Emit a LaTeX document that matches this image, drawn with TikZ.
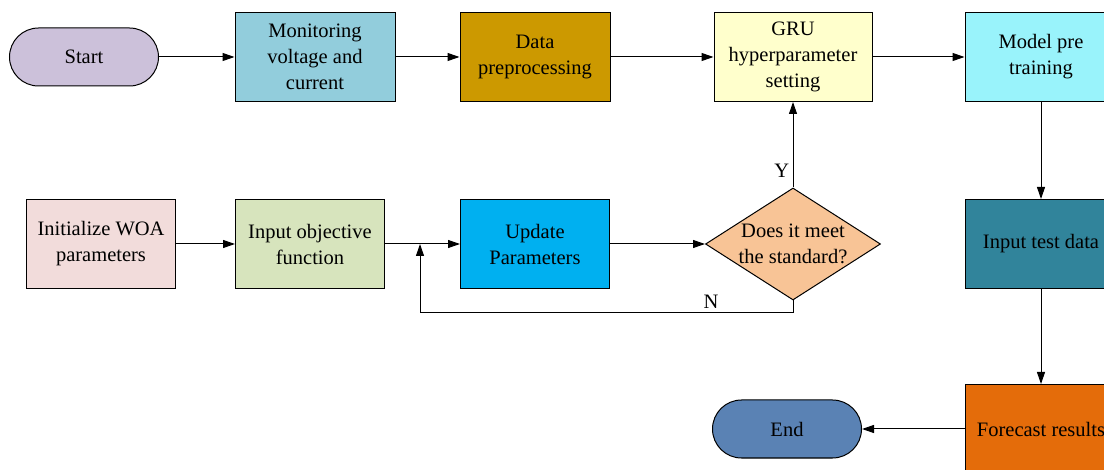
\documentclass[tikz,border=0pt]{standalone}
\usepackage{fontspec}
\setmainfont{Liberation Serif}
\usetikzlibrary{shapes.geometric,arrows.meta}
\definecolor{startc}{HTML}{CCC1DA}
\definecolor{monic}{HTML}{92CDDC}
\definecolor{datac}{HTML}{CC9900}
\definecolor{gruc}{HTML}{FFFFCC}
\definecolor{modelc}{HTML}{99F3FB}
\definecolor{initc}{HTML}{F2DCDB}
\definecolor{objc}{HTML}{D7E4BD}
\definecolor{updc}{HTML}{00B0F0}
\definecolor{decc}{HTML}{F8C496}
\definecolor{testc}{HTML}{31849B}
\definecolor{forec}{HTML}{E46C0A}
\definecolor{endc}{HTML}{5A82B4}
\begin{document}
\begin{tikzpicture}[x=1pt,y=1pt,->,>={Triangle[length=12pt,width=8pt]}]
        \tikzstyle{block}=[rectangle,draw=black,line width=1pt,minimum width=150pt,minimum height=89pt,align=center,font=\fontsize{20.5}{26}\selectfont]
        \tikzstyle{term}=[block,rounded corners=29pt,minimum height=58pt,minimum width=149pt]
        \tikzstyle{decide}=[diamond,draw=black,line width=1pt,aspect=1.56,inner sep=0pt,minimum width=175pt,minimum height=112pt,align=center,font=\fontsize{20.5}{26}\selectfont]
        \tikzstyle{edge}=[draw,line width=1pt]
        \useasboundingbox (0,0) rectangle (1104,-470);
       \begin{scope}
         \node [term,fill=startc] (start) at (84,-57) {Start};
         \node [block,fill=monic,minimum width=160pt] (moni) at (315,-57) {Monitoring\\voltage and\\current};
         \node [block,fill=datac] (data) at (535,-57) {Data\\preprocessing};
         \node [block,fill=gruc,minimum width=158pt] (gru) at (793,-57) {GRU\\hyperparameter\\setting};
         \node [block,fill=modelc,minimum width=152pt] (model) at (1041,-57) {Model pre\\training};
         \node [block,fill=initc,minimum width=149pt] (init) at (101,-244) {Initialize WOA\\parameters};
         \node [block,fill=objc,minimum width=149pt] (obj) at (310,-244) {Input objective\\function};
         \node [block,fill=updc,minimum width=149pt] (upd) at (535,-244) {Update\\Parameters};
         \node [decide,fill=decc] (dec) at (793,-244) {Does it meet\\the standard?};
         \node [block,fill=testc,minimum width=152pt] (test) at (1041,-244) {Input test data};
         \node [block,fill=forec,minimum width=152pt] (fore) at (1041,-429) {Forecast results};
         \node [term,fill=endc] (end) at (787,-429) {End};
         \coordinate (join) at (420,-244);
         \path[edge] (start) edge (moni);
         \path[edge] (moni) edge (data);
         \path[edge] (data) edge (gru);
         \path[edge] (gru) edge (model);
         \path[edge] (model) edge (test);
         \path[edge] (test) edge (fore);
         \path[edge] (fore) edge (end);
         \path[edge] (init) edge (obj);
         \path[edge] (obj) edge (upd);
         \path[edge] (upd) edge (dec);
         \path[edge] (dec) edge node[pos=0.2,left,font=\fontsize{20.5}{24}\selectfont] {Y} (gru);
         \path[edge] (dec.south) -- ++(0,-12) -| node[pos=0.11,above,font=\fontsize{20.5}{24}\selectfont] {N} (join);
        \end{scope}
      \end{tikzpicture}
\end{document}
